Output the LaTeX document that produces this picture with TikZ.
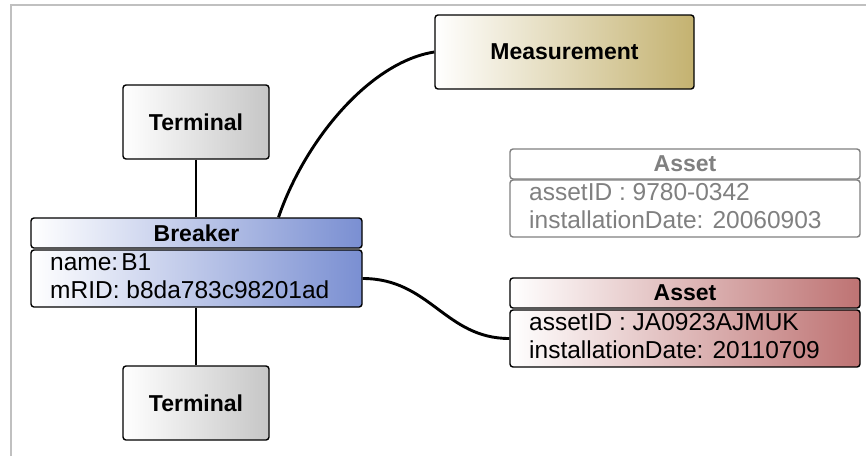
\documentclass[tikz,border=0pt]{standalone}
\usepackage{fontspec}
\setmainfont{Liberation Sans}
\definecolor{bluecol}{RGB}{122,143,210}
\definecolor{redcol}{RGB}{190,115,115}
\definecolor{khakicol}{RGB}{196,178,112}
\definecolor{termgray}{RGB}{198,198,198}
\definecolor{framegray}{RGB}{192,192,192}
\definecolor{fadegray}{RGB}{128,128,128}
\tikzset{
  box/.style={draw=black, line width=1.4pt, rounded corners=3pt, inner sep=0pt,
    font=\fontsize{23}{27}\selectfont\bfseries},
  attr/.style={anchor=base west, inner sep=0pt, font=\fontsize{24.5}{28}\selectfont},
  link/.style={line width=2.9pt, black},
  termbox/.style={box, minimum width=146pt, minimum height=74pt, left color=white, right color=termgray},
  headbox/.style={box, minimum width=#1, minimum height=30pt},
  bodybox/.style={box, minimum width=#1, minimum height=57pt},
}
\begin{document}
\begin{tikzpicture}[x=1pt,y=-1pt]
\useasboundingbox (0,0) rectangle (866,456);
\draw[framegray, line width=2pt] (11,456) -- (11,5) -- (866,5);

% Terminals
\node[termbox] (termT) at (196,122) {Terminal};
\node[termbox] (termB) at (196,403) {Terminal};

% Breaker
\node[headbox=331pt, left color=white, right color=bluecol] (brH) at (196.5,233) {Breaker};
\node[bodybox=331pt, left color=white, right color=bluecol] (brB) at (196.5,278.5) {};
\node[attr] (brA1) at (50,270) {name:\kern3pt B1};
\node[attr] (brA2) at (50,298) {mRID: b8da783c98201ad};

% Measurement
\node[box, minimum width=259pt, minimum height=74pt, left color=white, right color=khakicol] (meas) at (564.5,52) {Measurement};

% Faded Asset
\node[headbox=350pt, draw=fadegray, fill=white, text=fadegray] (agH) at (685,164) {Asset};
\node[bodybox=350pt, draw=fadegray, fill=white] (agB) at (685,208.5) {};
\node[attr, text=fadegray] (agA1) at (529,200) {assetID : 9780-0342};
\node[attr, text=fadegray] (agA2) at (529,228) {installationDate: 20060903};

% Red Asset
\node[headbox=350pt, left color=white, right color=redcol] (arH) at (685,293) {Asset};
\node[bodybox=350pt, left color=white, right color=redcol] (arB) at (685,338.5) {};
\node[attr] (arA1) at (529,330) {assetID : JA0923AJMUK};
\node[attr] (arA2) at (529,358) {installationDate: 20110709};

% Connectors
\draw[link] (termT.south) -- (termT.south |- brH.north);
\draw[link] (termB.north |- brB.south) -- (termB.north);
\coordinate (mstart) at ([xshift=82pt]brH.north);
\draw[link] (mstart) .. controls (305,140) and (370,62) .. (meas.west);
\draw[link] (brB.east) .. controls (430,278.5) and (445,338.5) .. (arB.west);
\end{tikzpicture}
\end{document}
